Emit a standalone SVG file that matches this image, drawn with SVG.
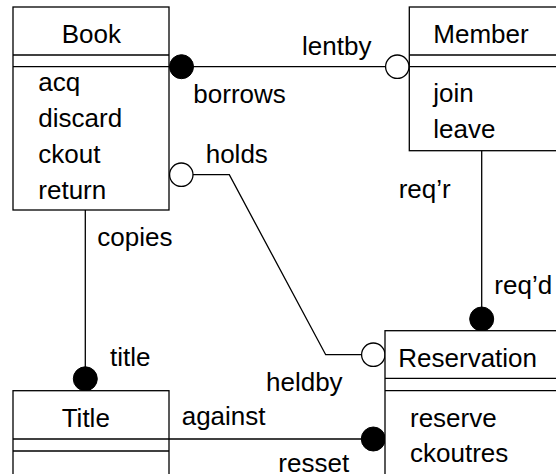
<svg xmlns="http://www.w3.org/2000/svg" width="556" height="474" viewBox="0 0 556 474">
  <style>
    .box { fill: #fff; stroke: #000; stroke-width: 1.3; }
    .div { stroke: #000; stroke-width: 1.3; }
    .conn { fill: none; stroke: #000; stroke-width: 1.3; }
    .full { fill: #000; stroke: #000; stroke-width: 1; }
    .open { fill: #fff; stroke: #000; stroke-width: 1.3; }
    text { font-family: "Liberation Sans", Arial, sans-serif; font-size: 26px; fill: #000; }
  </style>
  <rect width="556" height="474" fill="#fff"/>

  <!-- connectors -->
  <g id="connectors">
    <!-- Book borrows / lentby Member -->
    <line class="conn" x1="181" y1="66.7" x2="397" y2="66.7"/>
    <!-- Book holds / heldby Reservation -->
    <path class="conn" d="M193,174.7 H229.3 L325.7,354.7 H361.3"/>
    <!-- Book copies / title Title -->
    <line class="conn" x1="85.3" y1="210" x2="85.3" y2="378.7"/>
    <!-- Member req'r / req'd Reservation -->
    <line class="conn" x1="481.7" y1="150.7" x2="481.7" y2="319"/>
    <!-- Title against / resset Reservation -->
    <line class="conn" x1="169" y1="439" x2="373" y2="439"/>

    <circle class="full" cx="181.5" cy="66.7" r="12"/>
    <circle class="open" cx="397.3" cy="66.7" r="11.7"/>
    <circle class="open" cx="181.3" cy="174.7" r="11.7"/>
    <circle class="open" cx="373.3" cy="354.7" r="11.7"/>
    <circle class="full" cx="85.3" cy="378.8" r="12"/>
    <circle class="full" cx="481.7" cy="319" r="12"/>
    <circle class="full" cx="373.3" cy="439" r="12"/>

    <text x="302" y="55">lentby</text>
    <text x="193.3" y="102.7">borrows</text>
    <text x="205.7" y="162.7">holds</text>
    <text x="266" y="391">heldby</text>
    <text x="97.3" y="246">copies</text>
    <text x="110" y="366">title</text>
    <text x="398.7" y="198.3">req’r</text>
    <text x="494.3" y="294.3">req’d</text>
    <text x="181.7" y="425">against</text>
    <text x="278.3" y="471.5">resset</text>
  </g>

  <!-- Book -->
  <g id="book">
    <rect class="box" x="13" y="7" width="156" height="203"/>
    <line class="div" x1="13" y1="55" x2="169" y2="55"/>
    <line class="div" x1="13" y1="66.7" x2="169" y2="66.7"/>
    <text x="61.7" y="42.7">Book</text>
    <text x="38.3" y="90.5">acq</text>
    <text x="38.3" y="127">discard</text>
    <text x="38.3" y="162.5">ckout</text>
    <text x="38.3" y="198.5">return</text>
  </g>

  <!-- Member -->
  <g id="member">
    <rect class="box" x="409.3" y="7" width="170" height="143.7"/>
    <line class="div" x1="409.3" y1="55" x2="579.3" y2="55"/>
    <line class="div" x1="409.3" y1="66.7" x2="579.3" y2="66.7"/>
    <text x="433.3" y="42.7">Member</text>
    <text x="433.3" y="101.7">join</text>
    <text x="433.3" y="138.3">leave</text>
  </g>

  <!-- Reservation -->
  <g id="reservation">
    <rect class="box" x="385" y="330.7" width="190" height="160"/>
    <line class="div" x1="385" y1="378.3" x2="575" y2="378.3"/>
    <line class="div" x1="385" y1="390.7" x2="575" y2="390.7"/>
    <text x="398.3" y="366.7">Reservation</text>
    <text x="410" y="426.7">reserve</text>
    <text x="410" y="462.3">ckoutres</text>
  </g>

  <!-- Title -->
  <g id="title">
    <rect class="box" x="13" y="390.7" width="156" height="100"/>
    <line class="div" x1="13" y1="439" x2="169" y2="439"/>
    <line class="div" x1="13" y1="451" x2="169" y2="451"/>
    <text x="61.7" y="426.7">Title</text>
  </g>
</svg>
